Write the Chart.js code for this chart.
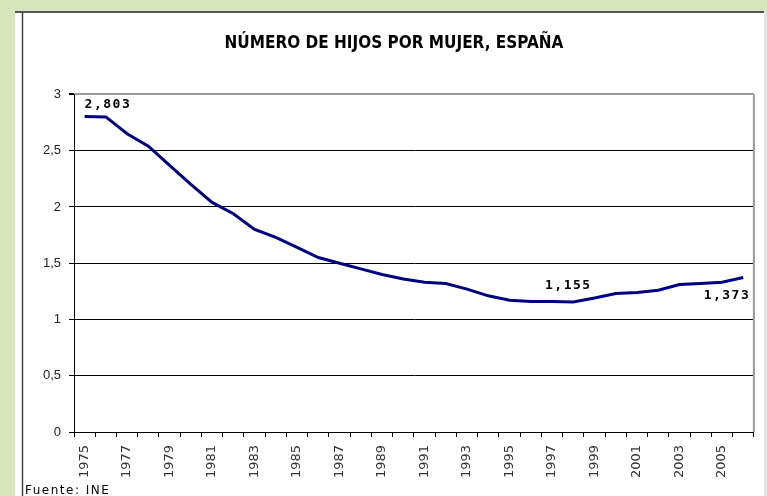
<!DOCTYPE html>
<html>
<head>
<meta charset="utf-8">
<script src="https://cdn.jsdelivr.net/npm/chart.js@4.4.1/dist/chart.umd.min.js"></script>
<style>
  html, body { margin: 0; padding: 0; background: #d8e4bc; }
  #wrap { width: 767px; height: 496px; }
</style>
</head>
<body>
<div id="wrap"><canvas id="myChart" width="767" height="496"></canvas></div>
<script>
var years = ['1975', '1976', '1977', '1978', '1979', '1980', '1981', '1982',
             '1983', '1984', '1985', '1986', '1987', '1988', '1989', '1990',
             '1991', '1992', '1993', '1994', '1995', '1996', '1997', '1998',
             '1999', '2000', '2001', '2002', '2003', '2004', '2005', '2006'];
var hijos = [2.803, 2.80, 2.65, 2.54, 2.37, 2.20, 2.04, 1.94,
             1.80, 1.73, 1.64, 1.55, 1.50, 1.45, 1.40, 1.36,
             1.33, 1.32, 1.27, 1.21, 1.17, 1.16, 1.16, 1.155,
             1.19, 1.23, 1.24, 1.26, 1.31, 1.32, 1.33, 1.373];
// points that carry a value label
var marcados = [0, 23, 31];
var titulo = 'NÚMERO DE HIJOS POR MUJER, ESPAÑA';
var fuente = 'Fuente: INE';

function coma(v, dec) {
    return v.toFixed(dec).replace('.', ',');
}

// green frame, white panel and borders
var fondo = {
    id: 'fondo',
    beforeDraw: function (chart) {
        var c = chart.ctx;
        c.save();
        c.fillStyle = '#d8e4bc';
        c.fillRect(0, 0, 767, 496);
        c.fillStyle = '#fff';
        c.fillRect(15, 11, 749, 485);
        c.fillStyle = '#e4e4e4';
        c.fillRect(764, 11, 3, 485);
        c.strokeStyle = '#555';
        c.lineWidth = 2;
        c.beginPath();
        c.moveTo(15, 12);
        c.lineTo(764, 12);
        c.stroke();
        c.lineWidth = 1.5;
        c.strokeStyle = '#444';
        c.beginPath();
        c.moveTo(22.5, 12);
        c.lineTo(22.5, 496);
        c.stroke();
        c.restore();
    },
    afterDraw: function (chart) {
        var c = chart.ctx;
        var a = chart.chartArea;
        c.save();
        c.strokeStyle = '#999';
        c.lineWidth = 2;
        c.beginPath();
        c.moveTo(a.right, a.top);
        c.lineTo(a.right, a.bottom);
        c.stroke();
        c.fillStyle = '#000';
        c.font = '12px "DejaVu Sans"';
        c.letterSpacing = '1.5px';
        c.textBaseline = 'alphabetic';
        c.fillText(fuente, 25, 494);
        c.restore();
    }
};

// value labels on the first, lowest and last points
var valores = {
    id: 'valores',
    afterDatasetsDraw: function (chart) {
        var c = chart.ctx;
        var pts = chart.getDatasetMeta(0).data;
        c.save();
        c.fillStyle = '#000';
        c.font = 'bold 13px "DejaVu Sans Mono"';
        c.letterSpacing = '1.5px';
        c.textBaseline = 'middle';
        marcados.forEach(function (i, k) {
            var p = pts[i];
            var txt = coma(hijos[i], 3);
            if (k === 0) {
                c.textAlign = 'left';
                c.fillText(txt, p.x, p.y - 12);
            } else if (k === 1) {
                c.textAlign = 'center';
                c.fillText(txt, p.x - 5, p.y - 16);
            } else {
                c.textAlign = 'right';
                c.fillText(txt, p.x + 7, p.y + 18);
            }
        });
        c.restore();
    }
};

var ctx = document.getElementById('myChart').getContext('2d');
var myChart = new Chart(ctx, {
    type: 'line',
    data: {
        labels: years,
        datasets: [{
            label: 'Hijos por mujer',
            data: hijos,
            borderColor: '#000080',
            borderWidth: 3,
            pointRadius: 0,
            tension: 0,
            fill: false
        }]
    },
    options: {
        responsive: false,
        animation: false,
        devicePixelRatio: 1,
        layout: {
            padding: { left: 30, right: 9, top: 0, bottom: 0 }
        },
        plugins: {
            legend: { display: false },
            tooltip: { enabled: false },
            title: {
                display: true,
                text: titulo,
                color: '#000',
                font: { family: '"DejaVu Sans Condensed", "Liberation Sans", sans-serif', size: 17, weight: 'bold' },
                padding: { top: 33, bottom: 41 }
            }
        },
        scales: {
            x: {
                offset: true,
                afterFit: function (s) { s.height = 64; },
                grid: {
                    offset: true,
                    drawOnChartArea: false,
                    tickLength: 5,
                    color: '#000'
                },
                border: { color: '#000', width: 1 },
                ticks: {
                    autoSkip: false,
                    minRotation: 90,
                    maxRotation: 90,
                    padding: 8,
                    color: '#333',
                    font: { family: '"DejaVu Sans"', size: 13 },
                    callback: function (v, i) { return i % 2 === 0 ? years[i] : ''; }
                }
            },
            y: {
                min: 0,
                max: 3,
                afterFit: function (s) { s.width = 44; },
                grid: {
                    color: function (c) { return c.tick && c.tick.value === 3 ? '#999' : '#000'; },
                    lineWidth: function (c) { return c.tick && c.tick.value === 3 ? 2 : 1; },
                    tickColor: '#000',
                    tickLength: 5
                },
                border: { color: '#000', width: 1 },
                ticks: {
                    stepSize: 0.5,
                    padding: 8,
                    color: '#222',
                    font: { family: '"Liberation Sans"', size: 13 },
                    callback: function (v) { return String(v).replace('.', ','); }
                }
            }
        }
    },
    plugins: [fondo, valores]
});
</script>
</body>
</html>
